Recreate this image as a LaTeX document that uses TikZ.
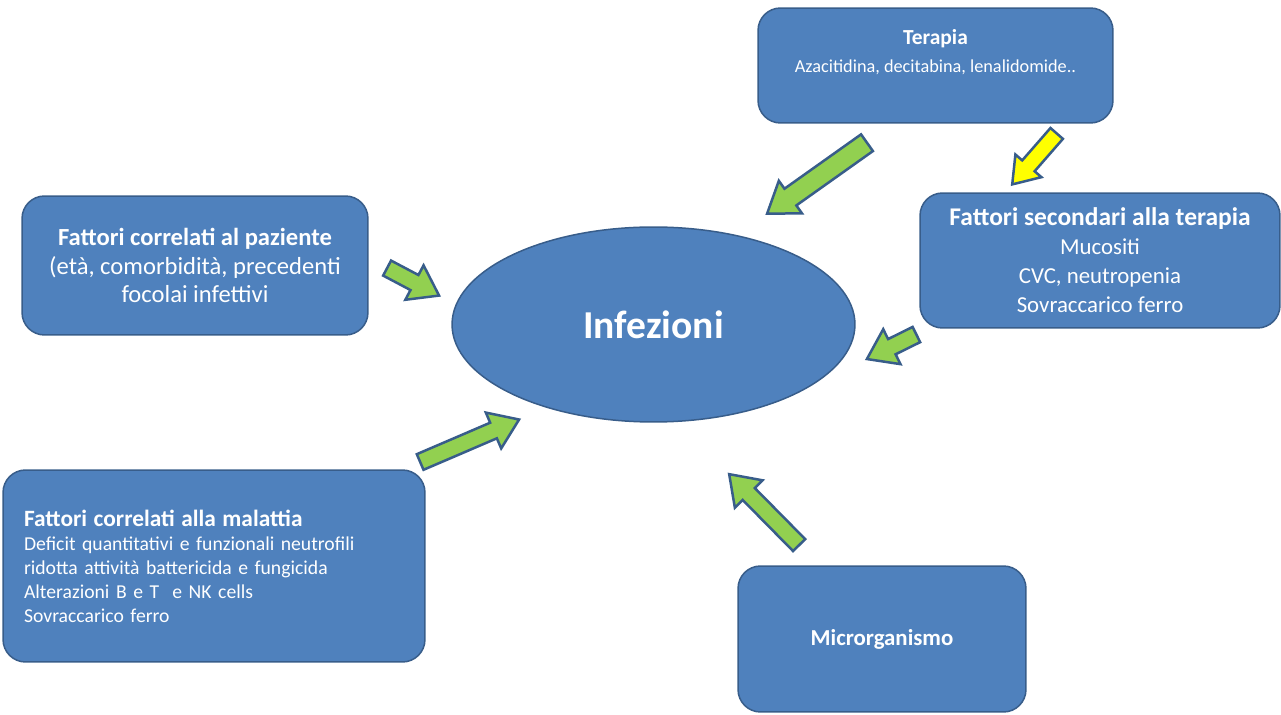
\documentclass[tikz,border=0pt]{standalone}
\usepackage{fontspec}
\setmainfont{Carlito}
\usetikzlibrary{shapes.geometric, shapes.arrows, positioning, calc}
\definecolor{boxblue}{HTML}{4F81BD}
\definecolor{boxline}{HTML}{385D8A}
\definecolor{arrgreen}{HTML}{92D050}
\definecolor{arryellow}{HTML}{FFFF00}
\tikzstyle{box}=[draw=boxline, fill=boxblue, line width=0.3mm, rounded corners=4.5mm, text=white, align=center]
\tikzstyle{txt}=[text=white, align=center, inner sep=0pt]
\tikzstyle{bigarrow}=[single arrow, draw=boxline, fill=arrgreen, line width=0.5mm, inner sep=1.8mm, single arrow head extend=1.95mm, single arrow tip angle=70, anchor=tail]
\tikzstyle{smallarrow}=[bigarrow, inner sep=1.45mm, single arrow head extend=2.2mm]
\tikzstyle{yellowarrow}=[bigarrow, fill=arryellow, inner sep=1.4mm, single arrow head extend=1.8mm]
% block arrow from tail to tip: style, name, tail, tip
\newcommand{\blockarrow}[4]{\path let \p1=($(#4)-(#3)$), \n1={atan2(\y1,\x1)}, \n2={veclen(\x1,\y1)} in node[#1, rotate=\n1, minimum height=\n2] (#2) at (#3) {};}

\begin{document}
\begin{tikzpicture}[x=0.02cm, y=-0.02cm]
	\useasboundingbox (0,0) rectangle (1281,715);
	\begin{scope}
		\node[box, minimum width=7.1cm, minimum height=2.3cm] (terapia) at (935.5,65.5) {};
		\node[txt, below=4.4mm of terapia.north, font=\fontsize{10.4}{16}\selectfont] (terapiatxt) {
			{\bfseries\fontsize{12.2}{16}\selectfont Terapia}\\
			Azacitidina, decitabina, lenalidomide..
		};
		\node[box, minimum width=6.92cm, minimum height=2.78cm, font=\fontsize{14}{16}\selectfont] (paziente) at (195,265.5) {
			\textbf{Fattori correlati al paziente}\\
			(età, comorbidità, precedenti\\
			focolai infettivi
		};
		\node[box, minimum width=7.2cm, minimum height=2.7cm, font=\fontsize{13}{16.5}\selectfont] (secondari) at (1100,260.5) {
			{\bfseries\fontsize{14.5}{16.5}\selectfont Fattori secondari alla terapia}\\
			Mucositi\\
			CVC, neutropenia\\
			Sovraccarico ferro
		};
		\node[box, ellipse, minimum width=8.06cm, minimum height=3.9cm, font=\bfseries\fontsize{22.5}{27}\selectfont] (infezioni) at (653.5,324.5) {Infezioni};
		\node[box, minimum width=8.44cm, minimum height=3.84cm, text width=7.6cm, align=left, font=\fontsize{11.2}{13.7}\selectfont] (malattia) at (214,566) {
			{\bfseries\fontsize{13.3}{15.4}\selectfont Fattori correlati alla malattia}\\
			Deficit quantitativi e funzionali neutrofili\\
			ridotta attività battericida e fungicida\\
			Alterazioni B e T\ \ e NK cells\\
			Sovraccarico ferro
		};
		\node[box, minimum width=5.76cm, minimum height=2.92cm, font=\bfseries\fontsize{13}{15}\selectfont] (micro) at (882,639) {Microrganismo};
	\end{scope}
	\begin{scope}
		\coordinate (t1) at (868,142);   \coordinate (h1) at (768,213);
		\coordinate (t2) at (1057.5,132.5); \coordinate (h2) at (1013,183.5);
		\coordinate (t3) at (386,267.5); \coordinate (h3) at (438,295);
		\coordinate (t4) at (917.5,334); \coordinate (h4) at (868,358.5);
		\coordinate (t5) at (419,462.5); \coordinate (h5) at (518,420);
		\coordinate (t6) at (800,546);   \coordinate (h6) at (730,475);
		\blockarrow{bigarrow}{a1}{t1}{h1}
		\blockarrow{yellowarrow}{a2}{t2}{h2}
		\blockarrow{smallarrow}{a3}{t3}{h3}
		\blockarrow{smallarrow}{a4}{t4}{h4}
		\blockarrow{smallarrow}{a5}{t5}{h5}
		\blockarrow{smallarrow}{a6}{t6}{h6}
	\end{scope}
\end{tikzpicture}
\end{document}
